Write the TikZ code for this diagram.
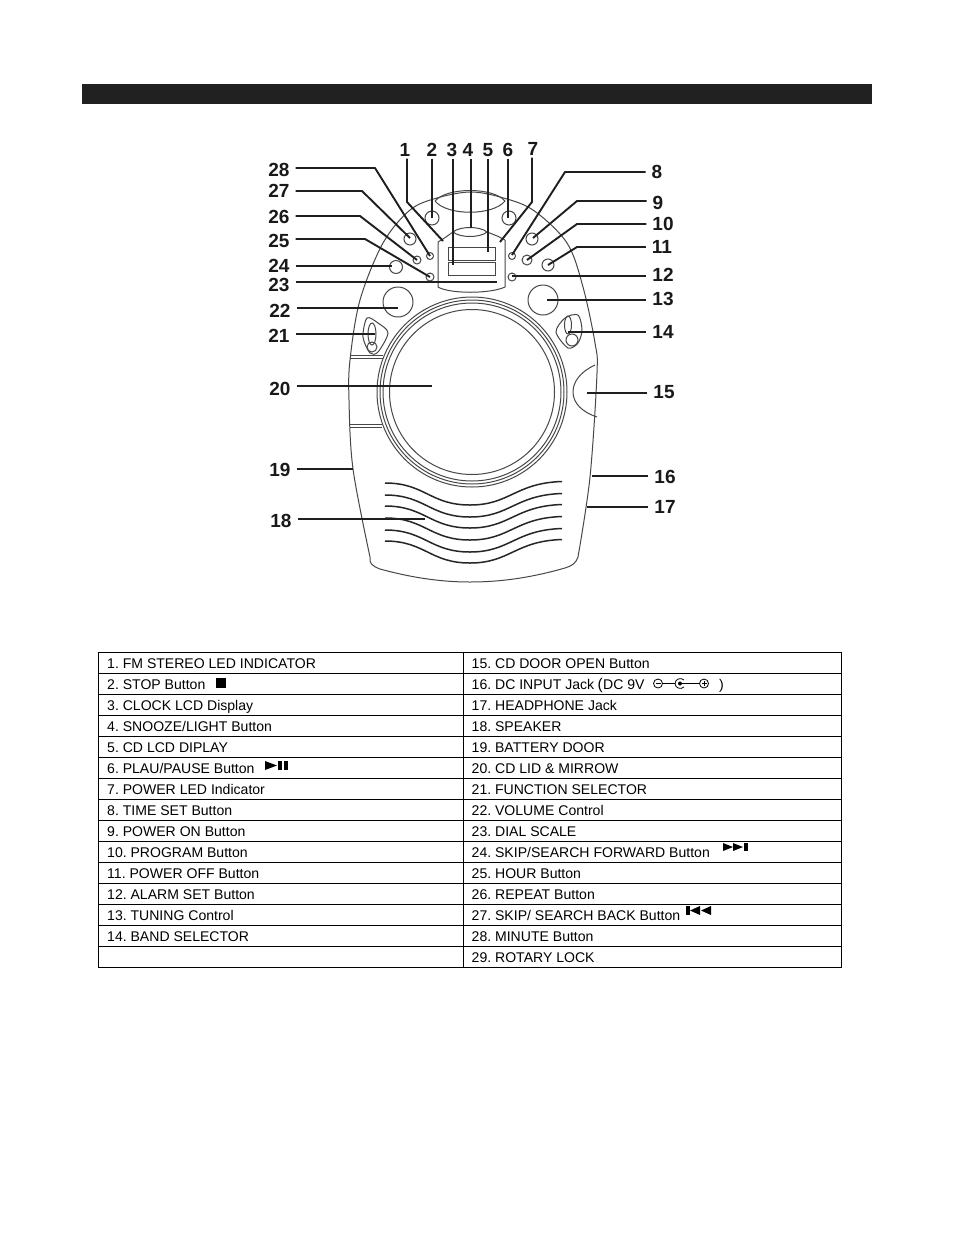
\documentclass[tikz,border=0pt]{standalone}
\usepackage{fontspec}
\setmainfont{Liberation Sans}
\frenchspacing
\tikzset{
  leader/.style={draw=black!88,line width=1.9pt,line join=round},
  part/.style={draw=black!72,line width=1pt},
  num/.style={font=\fontsize{19}{19}\selectfont\bfseries,inner sep=0pt,outer xsep=6pt,outer ysep=2pt,text=black!90},
  cell/.style={anchor=base west,font=\fontsize{14.05}{16}\selectfont,inner sep=0pt,text=black},
  rule/.style={draw=black,line width=0.9pt},
  symb/.style={fill=black,draw=none}
}
\begin{document}
\begin{tikzpicture}[x=1pt,y=-1pt]
\useasboundingbox (0,0) rectangle (954,1235);
\fill[white] (0,0) rectangle (954,1235);
\fill[black!87] (82,84) rectangle (872,104);

% --- device body
\draw[part] plot[smooth,tension=0.55] coordinates {(370,557) (353,469) (349,400) (350,360) (360,300) (383,243) (410,210) (437,198) (470,192) (500,197) (533,210) (567,243) (583,287) (595,343) (597,373) (590,477) (578,557)};
\draw[part] (370,557) .. controls (369,563) and (372,566) .. (380,569) .. controls (420,580) and (450,582) .. (470,582) .. controls (500,582) and (530,578) .. (565,568) .. controls (572,566) and (576,563) .. (578,557);
% top lens and snooze lens
\draw[part] (435,201) .. controls (447,187) and (493,187) .. (505,201) .. controls (493,216) and (447,216) .. (435,201);
\draw[part] (453,232) .. controls (460,226) and (480,226) .. (487,232) .. controls (480,238) and (460,238) .. (453,232);
% display panel
\draw[part] (438,242) -- (438,287) .. controls (450,294) and (490,294) .. (505,287) -- (505,240);
\draw[part] (438,242) .. controls (445,238) and (450,234) .. (453,232);
\draw[part] (487,232) .. controls (495,235) and (500,237) .. (505,240);
\draw[part] (448,247) rectangle (495,260);
\draw[part] (448,262) rectangle (495,275);
% buttons
\foreach \px/\py/\pr in {432/218/7,509/218/7,410/239/6,430/256/3.5,417/260/4,396/267/6.5,430/277/4,512/256/3.5,532/239/6,527/260/5,548/265/6,512/277/4,398/302/15,543/300/15}
  \draw[part] (\px,\py) circle[radius=\pr];
% selectors
\draw[part] plot[smooth cycle,tension=0.5] coordinates {(367,318) (378,323) (388,333) (378,352) (370,353) (363,337)};
\draw[part] (372,334) ellipse[x radius=4,y radius=11];
\draw[part] (372,347) circle[radius=5];
\draw[part] plot[smooth cycle,tension=0.5] coordinates {(578,315) (565,318) (556,332) (568,348) (578,343) (582,330)};
\draw[part] (568,325) ellipse[x radius=3.5,y radius=9];
\draw[part] (572,340) circle[radius=6];
% CD lid
\foreach \pr in {95,92,89,82.5} \draw[part] (472,392) circle[radius=\pr];
% door lines
\draw[part] (350,355) -- (383,355);
\draw[part] (350,358) -- (383,358);
\draw[part] (350,424) -- (382,424);
\draw[part] (350,427) -- (382,427);
% CD door button
\draw[part] (595,365) .. controls (580,372) and (573,382) .. (573,392) .. controls (573,403) and (582,412) .. (597,417);
% speaker
\foreach \py in {483,495,506,518,530,541}
  \draw[part,line width=1.5pt,draw=black!85] (385,\py) .. controls (425,\py) and (430,\py+22) .. (470,\py+22) .. controls (510,\py+22) and (515,\py) .. (562,\py-1.5);

% --- number labels
\foreach \nm/\px/\py in {1/405/150,2/432/150,3/452/150,4/468/150,5/488/150,6/508/150,7/533/149,8/657/172,9/658/203,10/663/224,11/662/247,12/663/275,13/663/299,14/663/332,15/664/392,16/665/477,17/665/507,18/281/521,19/280/470,20/280/389,21/279/336,22/280/311,23/279/285,24/279/266,25/279/241,26/279/217,27/279/191,28/279/170}
  \node[num] (n\nm) at (\px,\py) {\nm};

% --- leader ends
\foreach \nm/\px/\py in {1/443/241,2/432/218,3/453/265,4/471/228,5/488/252,6/508/218,7/500/242,8/512/255,9/533/238,10/527/260,11/548/265,12/512/276,13/547/300,14/568/332,15/587/393,16/592/476,17/587/507,18/425/519,19/353/469,20/432/386,21/375/334,22/398/308,23/497/282,24/392/266,25/430/277,26/417/260,27/410/238,28/430/256}
  \coordinate (e\nm) at (\px,\py);
\coordinate (b1) at (407,202);
\coordinate (b7) at (532,202);
\coordinate (b8) at (565,172);
\coordinate (b9) at (577,201);
\coordinate (b10) at (577,224);
\coordinate (b11) at (577,247);
\coordinate (b25) at (365,239);
\coordinate (b26) at (360,216);
\coordinate (b27) at (362,191);
\coordinate (b28) at (375,168);

\draw[leader] (b1 |- n1.south) -- (b1) -- (e1);
\draw[leader] (b7 |- n7.south) -- (b7) -- (e7);
\foreach \nm in {2,3,4,5,6} \draw[leader] (e\nm |- n\nm.south) -- (e\nm);
\foreach \nm in {8,9,10,11} \draw[leader] (n\nm.west |- b\nm) -- (b\nm) -- (e\nm);
\foreach \nm in {25,26,27,28} \draw[leader] (n\nm.east |- b\nm) -- (b\nm) -- (e\nm);
\foreach \nm in {12,13,14,15,16,17} \draw[leader] (n\nm.west |- e\nm) -- (e\nm);
\foreach \nm in {18,19,20,21,22,23,24} \draw[leader] (n\nm.east |- e\nm) -- (e\nm);

% --- table
\draw[rule] (98,652) rectangle (841,967);
\draw[rule] (463,652) -- (463,967);
\foreach \rw in {1,...,14} \draw[rule] (98,652+21*\rw) -- (841,652+21*\rw);

\foreach \rw/\tx in {0/{1. FM STEREO LED INDICATOR},1/{2. STOP Button},2/{3. CLOCK LCD Display},3/{4. SNOOZE/LIGHT Button},4/{5. CD LCD DIPLAY},5/{6. PLAU/PAUSE Button},6/{7. POWER LED Indicator},7/{8. TIME SET Button},8/{9. POWER ON Button},9/{10. PROGRAM Button},10/{11. POWER OFF Button},11/{12. ALARM SET Button},12/{13. TUNING Control},13/{14. BAND SELECTOR}}
  \node[cell] (l\rw) at (107,668.6+21*\rw) {\tx};
\foreach \rw/\tx in {0/{15. CD DOOR OPEN Button},1/{16. DC INPUT Jack},2/{17. HEADPHONE Jack},3/{18. SPEAKER},4/{19. BATTERY DOOR},5/{20. CD LID \& MIRROW},6/{21. FUNCTION SELECTOR},7/{22. VOLUME Control},8/{23. DIAL SCALE},9/{24. SKIP/SEARCH FORWARD Button},10/{25. HOUR Button},11/{26. REPEAT Button},12/{27. SKIP/ SEARCH BACK Button},13/{28. MINUTE Button},14/{29. ROTARY LOCK}}
  \node[cell] (r\rw) at (471.5,668.6+21*\rw) {\tx};
\node[cell,font=\fontsize{15.5}{16}\selectfont] (dcopen) at (597.5,689.6) {(};
\node[cell] (dcv) at (603,689.6) {DC 9V};
\node[cell] (dcclose) at (719,689.6) {)};

% --- table symbols
\fill[symb] (216,678) rectangle (226,688);
% play/pause
\fill[symb] (265,761) -- (277,765.5) -- (265,770) -- cycle;
\fill[symb] (277.5,761) rectangle (282,770);
\fill[symb] (283.5,761) rectangle (288,770);
% forward
\fill[symb] (723,843) -- (733,847) -- (723,851) -- cycle;
\fill[symb] (733,843) -- (743,847) -- (733,851) -- cycle;
\fill[symb] (743.5,843) rectangle (748,851);
% back
\fill[symb] (686,906) rectangle (690,915);
\fill[symb] (700,906) -- (690,910.5) -- (700,915) -- cycle;
\fill[symb] (711,906) -- (701,910.5) -- (711,915) -- cycle;
% DC polarity
\draw[black,line width=0.8pt] (658,683.5) circle[radius=4.5];
\draw[black,line width=0.8pt] (655.5,683.5) -- (660.5,683.5);
\draw[black,line width=0.8pt] (662.5,683.5) -- (675,683.5);
\draw[black,line width=0.8pt] (684,680) .. controls (681,677) and (675,679) .. (675,683.5) .. controls (675,688) and (681,690) .. (684,687);
\fill[black] (680,683.5) circle[radius=2];
\draw[black,line width=0.8pt] (682,683.5) -- (699.5,683.5);
\draw[black,line width=0.8pt] (704,683.5) circle[radius=4.5];
\draw[black,line width=0.8pt] (701.5,683.5) -- (706.5,683.5) (704,681) -- (704,686);
\end{tikzpicture}
\end{document}
